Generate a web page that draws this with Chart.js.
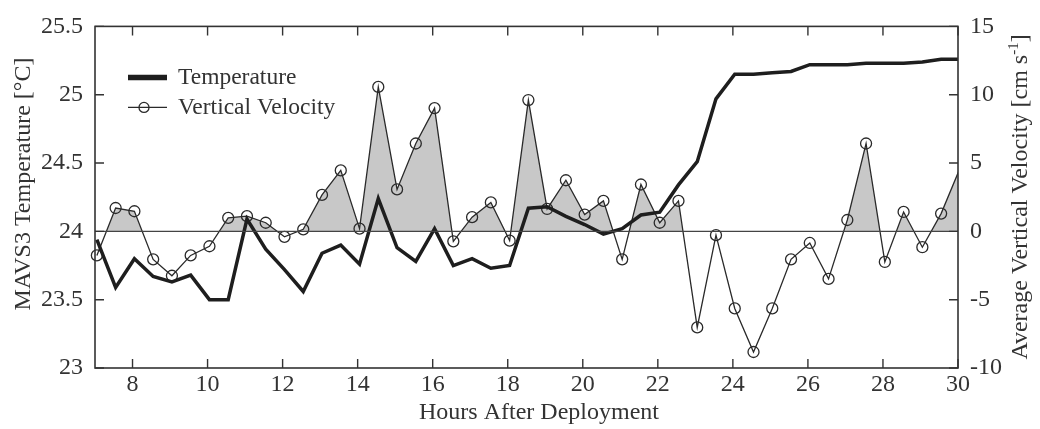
<!DOCTYPE html>
<html>
<head>
<meta charset="utf-8">
<title>MAVS3 Temperature and Vertical Velocity</title>
<script src="https://cdn.jsdelivr.net/npm/chart.js@4.4.1/dist/chart.umd.min.js"></script>
<style>
    html, body { margin: 0; padding: 0; background: #fff; }
    #wrap { position: relative; width: 1040px; height: 429px; }
</style>
</head>
<body>
<div id="wrap"><canvas id="mavsChart"></canvas></div>
<script>
// Hours after deployment (half-hour samples)
const hours = [7.05, 7.55, 8.05, 8.55, 9.05, 9.55, 10.05, 10.55, 11.05, 11.55,
    12.05, 12.55, 13.05, 13.55, 14.05, 14.55, 15.05, 15.55, 16.05, 16.55,
    17.05, 17.55, 18.05, 18.55, 19.05, 19.55, 20.05, 20.55, 21.05, 21.55,
    22.05, 22.55, 23.05, 23.55, 24.05, 24.55, 25.05, 25.55, 26.05, 26.55,
    27.05, 27.55, 28.05, 28.55, 29.05, 29.55, 30.05];

// MAVS3 temperature [°C]
const temperature = [23.94, 23.59, 23.80, 23.67, 23.63, 23.68, 23.50, 23.50, 24.09, 23.87,
    23.72, 23.56, 23.84, 23.90, 23.76, 24.24, 23.88, 23.78, 24.02, 23.75,
    23.80, 23.73, 23.75, 24.17, 24.18, 24.11, 24.05, 23.98, 24.02, 24.12,
    24.14, 24.34, 24.51, 24.97, 25.15, 25.15, 25.16, 25.17, 25.22, 25.22,
    25.22, 25.23, 25.23, 25.23, 25.24, 25.26, 25.26];

// Average vertical velocity [cm/s]
const velocity = [-1.76, 1.71, 1.47, -2.05, -3.25, -1.76, -1.09, 0.99, 1.11, 0.63,
    -0.40, 0.15, 2.67, 4.46, 0.20, 10.57, 3.07, 6.43, 9.02, -0.73,
    1.04, 2.12, -0.68, 9.61, 1.64, 3.74, 1.23, 2.23, -2.05, 3.43,
    0.63, 2.23, -7.03, -0.28, -5.64, -8.83, -5.64, -2.05, -0.85, -3.48,
    0.83, 6.43, -2.24, 1.42, -1.16, 1.30, 4.60];

const hourTicks = [8, 10, 12, 14, 16, 18, 20, 22, 24, 26, 28, 30];
const tempTicks = [23, 23.5, 24, 24.5, 25, 25.5];
const velTicks = [-10, -5, 0, 5, 10, 15];

const FONT = '"Liberation Serif", "Times New Roman", serif';
const INK = '#333';
const LINE = '#1e1e1e';

// frame, inward tick marks, zero line, legend and axis titles
const decorPlugin = {
    id: 'decor',
    afterDatasetsDraw(chart) {
        const ctx = chart.ctx;
        const a = chart.chartArea;
        const sx = chart.scales.x, sy = chart.scales.y, sv = chart.scales.y1;
        const tl = 9;
        ctx.save();

        // zero velocity line
        const y0 = sv.getPixelForValue(0);
        ctx.strokeStyle = '#444';
        ctx.lineWidth = 1.3;
        ctx.beginPath();
        ctx.moveTo(a.left, y0);
        ctx.lineTo(a.right, y0);
        ctx.stroke();

        // frame
        ctx.strokeStyle = INK;
        ctx.lineWidth = 1.6;
        ctx.strokeRect(a.left, a.top, a.right - a.left, a.bottom - a.top);

        // ticks pointing inward
        ctx.lineWidth = 1.4;
        ctx.beginPath();
        sx.ticks.forEach(t => {
            const px = sx.getPixelForValue(t.value);
            ctx.moveTo(px, a.bottom); ctx.lineTo(px, a.bottom - tl);
            ctx.moveTo(px, a.top); ctx.lineTo(px, a.top + tl);
        });
        sy.ticks.forEach(t => {
            const py = sy.getPixelForValue(t.value);
            ctx.moveTo(a.left, py); ctx.lineTo(a.left + tl, py);
        });
        sv.ticks.forEach(t => {
            const py = sv.getPixelForValue(t.value);
            ctx.moveTo(a.right, py); ctx.lineTo(a.right - tl, py);
        });
        ctx.stroke();

        // legend
        ctx.fillStyle = INK;
        ctx.font = '23.5px ' + FONT;
        ctx.textAlign = 'left';
        ctx.textBaseline = 'middle';
        chart.data.datasets.forEach((ds, i) => {
            const ly = a.top + 51 + i * 30;
            ctx.strokeStyle = ds.borderColor;
            ctx.lineWidth = i === 0 ? 5.5 : ds.borderWidth;
            ctx.beginPath();
            ctx.moveTo(a.left + 33, ly);
            ctx.lineTo(a.left + 72, ly);
            ctx.stroke();
            if (i === 1) {
                ctx.lineWidth = ds.pointBorderWidth;
                ctx.beginPath();
                ctx.arc(a.left + 49, ly, 5, 0, Math.PI * 2);
                ctx.stroke();
            }
            ctx.fillText(ds.label, a.left + 83, ly);
        });

        ctx.font = '24px ' + FONT;
        ctx.textAlign = 'center';

        // bottom title
        ctx.fillText('Hours After Deployment', 539, 413);

        // left title
        ctx.save();
        ctx.translate(24, 184);
        ctx.rotate(-Math.PI / 2);
        ctx.fillText('MAVS3 Temperature [°C]', 0, 0);
        ctx.restore();

        // right title with superscript
        ctx.save();
        ctx.translate(1021, 197);
        ctx.rotate(-Math.PI / 2);
        ctx.textAlign = 'left';
        const main = 'Average Vertical Velocity [cm s';
        ctx.font = '24px ' + FONT;
        const w1 = ctx.measureText(main).width;
        const w3 = ctx.measureText(']').width;
        ctx.font = '15px ' + FONT;
        const w2 = ctx.measureText('-1').width;
        const x0 = -(w1 + w2 + w3) / 2;
        ctx.font = '24px ' + FONT;
        ctx.fillText(main, x0, 0);
        ctx.font = '15px ' + FONT;
        ctx.fillText('-1', x0 + w1, -7);
        ctx.font = '24px ' + FONT;
        ctx.fillText(']', x0 + w1 + w2, 0);
        ctx.restore();

        ctx.restore();
    }
};

// hide markers that fall past the x range (the line is clipped there)
const markerRadius = c => (c.raw && c.raw.x > c.chart.scales.x.max) ? 0 : 5.5;

const ctx = document.getElementById('mavsChart').getContext('2d');
const mavsChart = new Chart(ctx, {
    type: 'line',
    data: {
        datasets: [
            {
                label: 'Temperature',
                data: hours.map((h, i) => ({ x: h, y: temperature[i] })),
                yAxisID: 'y',
                borderColor: LINE,
                borderWidth: 3.5,
                pointRadius: 0,
                tension: 0,
                fill: false,
                clip: { left: 8, top: 8, right: 0, bottom: 8 }
            },
            {
                label: 'Vertical Velocity',
                data: hours.map((h, i) => ({ x: h, y: velocity[i] })),
                yAxisID: 'y1',
                borderColor: '#2a2a2a',
                borderWidth: 1.3,
                pointRadius: markerRadius,
                pointBorderWidth: 1.3,
                pointBorderColor: '#2a2a2a',
                pointBackgroundColor: 'rgba(0,0,0,0)',
                tension: 0,
                fill: {
                    target: { value: 0 },
                    above: '#c8c8c8',
                    below: 'rgba(0,0,0,0)'
                },
                clip: { left: 8, top: 8, right: 0, bottom: 8 }
            }
        ]
    },
    options: {
        responsive: true,
        maintainAspectRatio: false,
        animation: false,
        layout: { padding: { top: 20, left: 0, right: 0, bottom: 0 } },
        plugins: {
            legend: { display: false },
            tooltip: { enabled: false }
        },
        scales: {
            x: {
                type: 'linear',
                min: 7,
                max: 30,
                afterBuildTicks: axis => { axis.ticks = hourTicks.map(v => ({ value: v })); },
                afterFit: axis => { axis.height = 61; },
                grid: { display: false, drawTicks: false },
                border: { display: false },
                ticks: {
                    color: INK,
                    padding: 2,
                    maxRotation: 0,
                    font: { family: FONT, size: 24 },
                    callback: v => String(v)
                }
            },
            y: {
                position: 'left',
                min: 23,
                max: 25.5,
                afterBuildTicks: axis => { axis.ticks = tempTicks.map(v => ({ value: v })); },
                afterFit: axis => { axis.width = 95; },
                grid: { display: false, drawTicks: false },
                border: { display: false },
                ticks: {
                    color: INK,
                    padding: 12,
                    font: { family: FONT, size: 24 },
                    callback: v => String(v)
                }
            },
            y1: {
                position: 'right',
                min: -10,
                max: 15,
                afterBuildTicks: axis => { axis.ticks = velTicks.map(v => ({ value: v })); },
                afterFit: axis => { axis.width = 82; },
                grid: { display: false, drawTicks: false },
                border: { display: false },
                ticks: {
                    color: INK,
                    padding: 12,
                    font: { family: FONT, size: 24 },
                    callback: v => String(v)
                }
            }
        }
    },
    plugins: [decorPlugin]
});
</script>
</body>
</html>
